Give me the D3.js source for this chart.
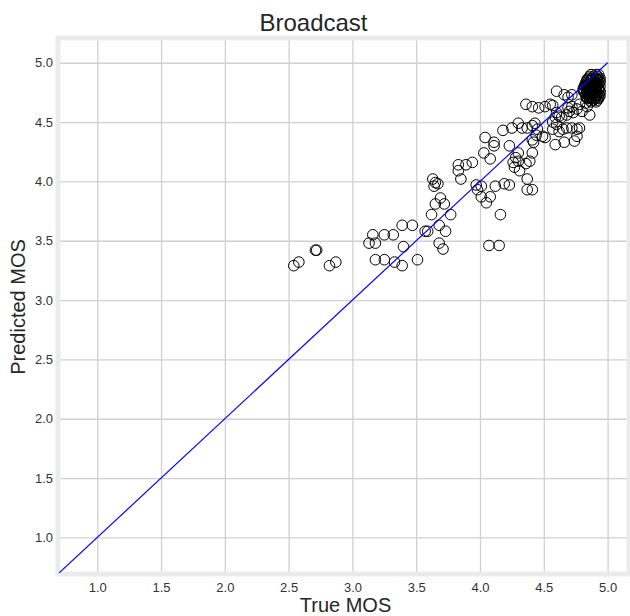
<!DOCTYPE html>
<html>
  <head>
    <meta charset="utf-8">
    <script src="https://cdnjs.cloudflare.com/ajax/libs/d3/7.8.5/d3.min.js"></script>
    <style>
      body { margin: 0; background: #ffffff; }
    </style>
  </head>

<body>

    <div id="chartContainer"></div>

  <script type="text/javascript">

      // true MOS (x) and predicted MOS (y)
      var trueMos = [
        2.54, 2.58, 2.71, 2.72, 2.82, 2.87,
        3.13, 3.18, 3.16, 3.25, 3.32, 3.18, 3.25, 3.33, 3.39, 3.40, 3.51, 3.39, 3.47,
        3.57, 3.59, 3.62, 3.65, 3.69, 3.72, 3.63, 3.65, 3.67, 3.64, 3.68, 3.73, 3.68, 3.71, 3.77,
        3.83, 3.89, 3.94, 3.83, 3.85, 3.97, 3.98, 4.01, 4.01, 4.05, 4.08, 4.12, 4.19, 4.23,
        4.16, 4.07, 4.15, 4.37, 4.41, 4.04, 4.11, 4.11, 4.03, 4.08,
        4.18, 4.25, 4.30, 4.33, 4.37, 4.41, 4.43, 4.45, 4.44, 4.41, 4.42, 4.49, 4.51,
        4.23, 4.30, 4.28, 4.26, 4.30, 4.27, 4.31, 4.39, 4.36, 4.41, 4.37,
        4.36, 4.41, 4.46, 4.51, 4.55, 4.57, 4.60, 4.66, 4.69, 4.72,
        4.60, 4.62, 4.64, 4.68, 4.70, 4.72, 4.69, 4.57, 4.60, 4.59,
        4.57, 4.62, 4.65, 4.68, 4.72, 4.76, 4.78, 4.59, 4.66, 4.74,
        4.86, 4.84, 4.83, 4.76, 4.80, 4.78, 4.76, 4.73,
        // dense cluster near 4.9
        4.87, 4.91, 4.93,
        4.85, 4.88, 4.91, 4.94,
        4.84, 4.87, 4.90, 4.92, 4.94,
        4.83, 4.85, 4.88, 4.91, 4.93,
        4.82, 4.84, 4.87, 4.89, 4.91, 4.94,
        4.81, 4.84, 4.86, 4.88, 4.91, 4.93,
        4.82, 4.84, 4.87, 4.90, 4.92, 4.94,
        4.83, 4.86, 4.89, 4.91, 4.94,
        4.84, 4.87, 4.90, 4.93,
        4.87, 4.91,
        4.86, 4.89, 4.92,
        4.84, 4.87, 4.91, 4.93,
        4.83, 4.86, 4.89, 4.91, 4.94,
        4.82, 4.84, 4.87, 4.90, 4.92,
        4.81, 4.84, 4.86, 4.88, 4.91, 4.93,
        4.81, 4.84, 4.87, 4.89, 4.91, 4.94,
        4.83, 4.85, 4.87, 4.91, 4.93,
        4.84, 4.87, 4.91, 4.93,
        4.86, 4.89, 4.92
      ];

      var predictedMos = [
        3.29, 3.32, 3.42, 3.42, 3.29, 3.32,
        3.48, 3.48, 3.55, 3.55, 3.55, 3.34, 3.34, 3.32, 3.29, 3.45, 3.34, 3.63, 3.63,
        3.58, 3.58, 3.72, 3.81, 3.86, 3.81, 4.02, 3.99, 3.98, 3.96, 3.63, 3.58, 3.48, 3.43, 3.72,
        4.14, 4.14, 4.16, 4.09, 4.02, 3.97, 3.93, 3.96, 3.87, 3.82, 3.87, 3.96, 3.98, 3.97,
        3.72, 3.46, 3.46, 3.93, 3.93, 4.37, 4.33, 4.30, 4.24, 4.19,
        4.43, 4.45, 4.49, 4.45, 4.45, 4.47, 4.49, 4.44, 4.39, 4.35, 4.33, 4.38, 4.37,
        4.30, 4.24, 4.20, 4.16, 4.17, 4.12, 4.09, 4.17, 4.15, 4.24, 4.02,
        4.65, 4.63, 4.62, 4.63, 4.65, 4.64, 4.76, 4.73, 4.71, 4.73,
        4.58, 4.55, 4.54, 4.56, 4.59, 4.63, 4.62, 4.50, 4.48, 4.54,
        4.44, 4.42, 4.44, 4.45, 4.45, 4.44, 4.45, 4.31, 4.33, 4.34,
        4.56, 4.63, 4.66, 4.38, 4.59, 4.65, 4.61, 4.58,
        4.90, 4.90, 4.90,
        4.87, 4.87, 4.87, 4.87,
        4.85, 4.85, 4.85, 4.85, 4.85,
        4.82, 4.82, 4.82, 4.82, 4.82,
        4.80, 4.80, 4.80, 4.80, 4.80, 4.80,
        4.77, 4.77, 4.77, 4.77, 4.77, 4.77,
        4.75, 4.75, 4.75, 4.75, 4.75, 4.75,
        4.72, 4.72, 4.72, 4.72, 4.72,
        4.70, 4.70, 4.70, 4.70,
        4.67, 4.67,
        4.885, 4.885, 4.885,
        4.86, 4.86, 4.86, 4.86,
        4.835, 4.835, 4.835, 4.835, 4.835,
        4.81, 4.81, 4.81, 4.81, 4.81,
        4.785, 4.785, 4.785, 4.785, 4.785, 4.785,
        4.76, 4.76, 4.76, 4.76, 4.76, 4.76,
        4.735, 4.735, 4.735, 4.735, 4.735,
        4.71, 4.71, 4.71, 4.71,
        4.685, 4.685, 4.685
      ];

      // tick values for both axes
      var xTicks = [1.0, 1.5, 2.0, 2.5, 3.0, 3.5, 4.0, 4.5, 5.0];
      var yTicks = [1.0, 1.5, 2.0, 2.5, 3.0, 3.5, 4.0, 4.5, 5.0];

      // identity line end points
      var lineEnds = [0.70, 5.0];

      var width = 630, height = 616;
      var margin = { left: 59, right: 2, top: 39, bottom: 43 };
      var font = "'Liberation Sans', Arial, sans-serif";

      var svg = d3.select("#chartContainer").append("svg")
          .attr("width", width)
          .attr("height", height);

      var x = d3.scaleLinear().domain([0.70, 5.16]).range([margin.left, width - margin.right]);
      var y = d3.scaleLinear().domain([0.70, 5.20]).range([height - margin.bottom, margin.top]);

      // clip so the line stays inside the plot
      svg.append("clipPath").attr("id", "plotClip")
        .append("rect")
          .attr("x", margin.left)
          .attr("y", margin.top)
          .attr("width", width - margin.left - margin.right)
          .attr("height", height - margin.top - margin.bottom);

      // grid lines
      svg.append("g")
        .attr("transform", "translate(0," + (height - margin.bottom) + ")")
        .call(d3.axisBottom(x).tickValues(xTicks).tickSize(-(height - margin.top - margin.bottom)).tickFormat(""))
        .call(function (g) { g.select(".domain").remove(); })
        .selectAll("line").attr("stroke", "#d0d0d0").attr("stroke-width", 1.3);

      svg.append("g")
        .attr("transform", "translate(" + margin.left + ",0)")
        .call(d3.axisLeft(y).tickValues(yTicks).tickSize(-(width - margin.left - margin.right)).tickFormat(""))
        .call(function (g) { g.select(".domain").remove(); })
        .selectAll("line").attr("stroke", "#d0d0d0").attr("stroke-width", 1.3);

      // plot frame
      svg.append("rect")
        .attr("x", margin.left - 1)
        .attr("y", margin.top - 1)
        .attr("width", width - margin.left - margin.right + 2)
        .attr("height", height - margin.top - margin.bottom + 2)
        .attr("fill", "none")
        .attr("stroke", "#ebebeb")
        .attr("stroke-width", 5);

      // tick labels
      svg.append("g")
        .attr("transform", "translate(0," + (height - margin.bottom + 4) + ")")
        .call(d3.axisBottom(x).tickValues(xTicks).tickSize(0).tickPadding(6).tickFormat(d3.format(".1f")))
        .call(function (g) { g.select(".domain").remove(); })
        .selectAll("text")
          .style("font-family", font)
          .style("font-size", "13px")
          .attr("fill", "#333333");

      svg.append("g")
        .attr("transform", "translate(" + (margin.left - 4) + ",0)")
        .call(d3.axisLeft(y).tickValues(yTicks).tickSize(0).tickPadding(2).tickFormat(d3.format(".1f")))
        .call(function (g) { g.select(".domain").remove(); })
        .selectAll("text")
          .style("font-family", font)
          .style("font-size", "13px")
          .attr("fill", "#333333");

      // scatter points, hollow circles
      svg.append("g").selectAll("circle")
        .data(d3.range(trueMos.length))
        .enter()
        .append("circle")
          .attr("cx", function (i) { return x(trueMos[i]); })
          .attr("cy", function (i) { return y(predictedMos[i]); })
          .attr("r", 5.3)
          .attr("fill", "none")
          .attr("stroke", "#000000")
          .attr("stroke-width", 1);

      // identity line, drawn over the points
      svg.append("line")
        .attr("clip-path", "url(#plotClip)")
        .attr("x1", x(lineEnds[0]))
        .attr("y1", y(lineEnds[0]))
        .attr("x2", x(lineEnds[1]))
        .attr("y2", y(lineEnds[1]))
        .attr("stroke", "#0000ff")
        .attr("stroke-width", 1.2);

      // title
      svg.append("text")
        .attr("x", (margin.left + width - margin.right) / 2 - 30)
        .attr("y", 31)
        .attr("text-anchor", "middle")
        .style("font-family", font)
        .style("font-size", "24px")
        .attr("fill", "#262626")
        .text("Broadcast");

      // axis titles
      svg.append("text")
        .attr("x", (margin.left + width - margin.right) / 2 + 2)
        .attr("y", 612)
        .attr("text-anchor", "middle")
        .style("font-family", font)
        .style("font-size", "20px")
        .attr("fill", "#262626")
        .text("True MOS");

      svg.append("text")
        .attr("transform", "translate(25," + 307 + ") rotate(-90)")
        .attr("text-anchor", "middle")
        .style("font-family", font)
        .style("font-size", "20px")
        .attr("fill", "#262626")
        .text("Predicted MOS");

  </script>

</body>
</html>
